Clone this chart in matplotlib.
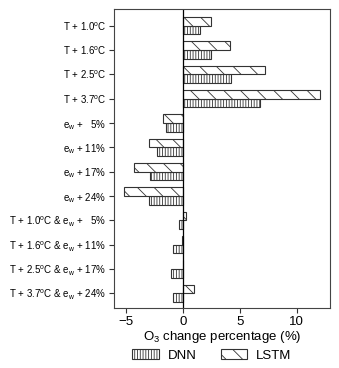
import matplotlib
matplotlib.use("Agg")
import matplotlib.pyplot as plt
import numpy as np

plt.rcParams['font.family'] = ['Liberation Sans', 'DejaVu Sans']
plt.rcParams['mathtext.fontset'] = 'custom'
plt.rcParams['mathtext.rm'] = 'Liberation Sans'
plt.rcParams['mathtext.it'] = 'Liberation Sans'
plt.rcParams['hatch.linewidth'] = 0.6

labels = [
    r"T + 1.0$^{\rm o}$C",
    r"T + 1.6$^{\rm o}$C",
    r"T + 2.5$^{\rm o}$C",
    r"T + 3.7$^{\rm o}$C",
    r"e$_{\rm w}$ +   5%",
    r"e$_{\rm w}$ + 11%",
    r"e$_{\rm w}$ + 17%",
    r"e$_{\rm w}$ + 24%",
    r"T + 1.0$^{\rm o}$C & e$_{\rm w}$ +   5%",
    r"T + 1.6$^{\rm o}$C & e$_{\rm w}$ + 11%",
    r"T + 2.5$^{\rm o}$C & e$_{\rm w}$ + 17%",
    r"T + 3.7$^{\rm o}$C & e$_{\rm w}$ + 24%",
]
lstm = [2.45, 4.15, 7.25, 12.0, -1.75, -3.0, -4.25, -5.2, 0.25, -0.1, 0.05, 1.0]
dnn = [1.5, 2.45, 4.2, 6.75, -1.45, -2.3, -2.9, -3.0, -0.35, -0.85, -1.05, -0.9]
xticks = [-5, 0, 5, 10]

fig = plt.figure(figsize=(3.39, 3.68), dpi=100)
ax = fig.add_axes([0.336, 0.163, 0.637, 0.8125])

y = np.arange(len(labels))
h = 0.36
ec = '#333333'
ax.barh(y + h / 2, dnn, height=h, facecolor='white', edgecolor=ec,
        hatch='||||||', linewidth=0.8, label='DNN')
ax.barh(y - h / 2, lstm, height=h, facecolor='white', edgecolor=ec,
        hatch='\\\\', linewidth=0.8, label='LSTM')
ax.axvline(0, color='black', linewidth=0.9)

ax.set_yticks(y)
ax.set_yticklabels(labels, fontsize=7.0)
ax.set_ylim(11.6, -0.68)
ax.set_xlim(-6.05, 12.9)
ax.set_xticks(xticks)
ax.set_xticklabels([str(t).replace('-', '\u2212') for t in xticks], fontsize=9.5)
ax.tick_params(axis='both', direction='out', length=3.5, width=0.8, color=ec, pad=2)
for s in ax.spines.values():
    s.set_color('#444444')
    s.set_linewidth(0.8)
ax.set_xlabel(r"O$_3$ change percentage (%)", fontsize=9.5, labelpad=1)

leg = fig.legend(loc='lower center', bbox_to_anchor=(0.625, -0.015), ncol=2, frameon=False,
                 fontsize=9.5, handlelength=2.0, handleheight=0.75, columnspacing=1.8,
                 handletextpad=0.7)

fig.savefig("out.png", dpi=100)
